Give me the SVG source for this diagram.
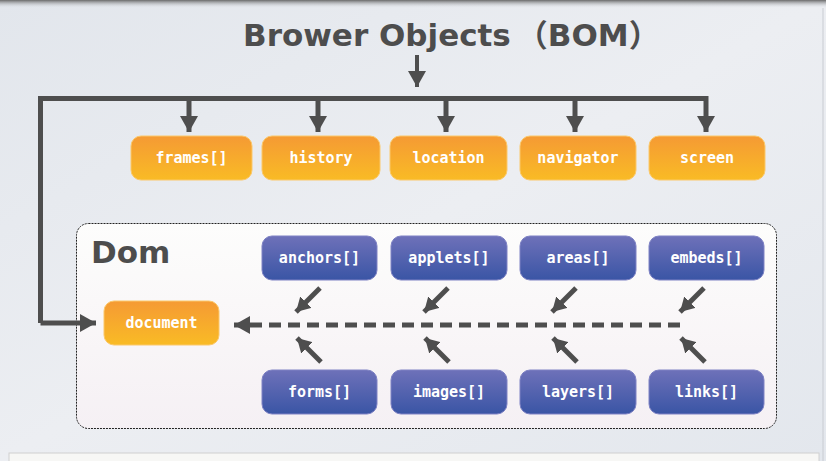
<svg xmlns="http://www.w3.org/2000/svg" width="826" height="461" viewBox="0 0 826 461">
<defs>
<linearGradient id="bg" x1="0" y1="0" x2="1" y2="1">
<stop offset="0" stop-color="#e2e6ec"/>
<stop offset="0.5" stop-color="#eceef2"/>
<stop offset="1" stop-color="#e3e7ed"/>
</linearGradient>
<linearGradient id="topbar" x1="0" y1="0" x2="0" y2="1">
<stop offset="0" stop-color="#6a6a6a"/>
<stop offset="1" stop-color="#e2e6ec" stop-opacity="0"/>
</linearGradient>
<linearGradient id="og" x1="0" y1="0" x2="0" y2="1">
<stop offset="0" stop-color="#f59a34"/>
<stop offset="1" stop-color="#f9bb25"/>
</linearGradient>
<linearGradient id="bl" x1="0" y1="0" x2="0" y2="1">
<stop offset="0" stop-color="#6e71b9"/>
<stop offset="1" stop-color="#3a55a5"/>
</linearGradient>
<linearGradient id="dom" x1="0" y1="0" x2="0" y2="1">
<stop offset="0" stop-color="#fdfdfc"/>
<stop offset="1" stop-color="#f5f0f4"/>
</linearGradient>
<marker id="ah" viewBox="0 0 16 18" refX="16" refY="9" markerWidth="16" markerHeight="18" markerUnits="userSpaceOnUse" orient="auto">
<path d="M0,0 L16,9 L0,18 z" fill="#4e4e4e"/>
</marker>
<marker id="ah2" viewBox="0 0 14 16" refX="14" refY="8" markerWidth="14" markerHeight="16" markerUnits="userSpaceOnUse" orient="auto">
<path d="M0,0 L14,8 L0,16 z" fill="#4e4e4e"/>
</marker>
</defs>
<style>
.o rect{fill:url(#og);stroke:#fbc86a;stroke-width:1}
.b rect{fill:url(#bl);stroke:#7e82c4;stroke-width:1}
.lbl{font-family:"DejaVu Sans Mono","Liberation Mono",monospace;font-weight:bold;font-size:15px;fill:#ffffff;text-anchor:middle}
.ln{fill:none;stroke:#4e4e4e;stroke-width:5}
.dg{fill:none;stroke:#4e4e4e;stroke-width:5;marker-end:url(#ah2)}
.hd{font-family:"DejaVu Sans","Noto Sans CJK SC",sans-serif;font-weight:bold;fill:#4d4d4d}
</style>
<rect x="0" y="0" width="826" height="461" fill="url(#bg)"/>
<rect x="0" y="0" width="826" height="8" fill="url(#topbar)"/>
<line x1="823" y1="8" x2="823" y2="461" stroke="#c9ccd2" stroke-width="1"/>
<rect x="9" y="453" width="810" height="10" fill="#f7f7f5" stroke="#d0d0d0" stroke-width="1"/>

<g id="title">
<text class="hd" x="243" y="46" font-size="31">Brower Objects<tspan dx="6" font-family="'Noto Sans CJK SC',sans-serif">（</tspan>BOM<tspan font-family="'Noto Sans CJK SC',sans-serif">）</tspan></text>
</g>

<g id="dom-container">
<rect x="76.5" y="223.5" width="700" height="205" rx="12" fill="url(#dom)" stroke="#222" stroke-width="1" stroke-dasharray="2,1"/>
<text class="hd" x="91" y="263" font-size="31">Dom</text>
</g>

<g id="connectors">
<line x1="417" y1="55" x2="417" y2="87" stroke="#4e4e4e" stroke-width="4" marker-end="url(#ah)"/>
<polyline class="ln" points="40.5,323 40.5,98.5 706,98.5"/>
<line class="ln" x1="40.5" y1="323" x2="96" y2="323" marker-end="url(#ah)"/>
<line class="ln" x1="189" y1="98" x2="189" y2="132" marker-end="url(#ah)"/>
<line class="ln" x1="318" y1="98" x2="318" y2="132" marker-end="url(#ah)"/>
<line class="ln" x1="446" y1="98" x2="446" y2="132" marker-end="url(#ah)"/>
<line class="ln" x1="575" y1="98" x2="575" y2="132" marker-end="url(#ah)"/>
<line class="ln" x1="706" y1="96" x2="706" y2="132" marker-end="url(#ah)"/>
<line class="ln" x1="680" y1="325" x2="234" y2="325" stroke-dasharray="12,7" marker-end="url(#ah)"/>
<line class="dg" x1="320" y1="288" x2="296" y2="312"/>
<line class="dg" x1="448" y1="288" x2="424" y2="312"/>
<line class="dg" x1="576" y1="288" x2="552" y2="312"/>
<line class="dg" x1="704" y1="288" x2="680" y2="312"/>
<line class="dg" x1="321" y1="362" x2="297" y2="338"/>
<line class="dg" x1="449" y1="362" x2="425" y2="338"/>
<line class="dg" x1="577" y1="362" x2="553" y2="338"/>
<line class="dg" x1="705" y1="362" x2="681" y2="338"/>
</g>

<g id="frames" class="o"><rect x="131" y="136" width="121" height="44" rx="10"/><text class="lbl" x="191.5" y="163">frames[]</text></g>
<g id="history" class="o"><rect x="262" y="136" width="118" height="44" rx="10"/><text class="lbl" x="321" y="163">history</text></g>
<g id="location" class="o"><rect x="390" y="136" width="117" height="44" rx="10"/><text class="lbl" x="448.5" y="163">location</text></g>
<g id="navigator" class="o"><rect x="520" y="136" width="116" height="44" rx="10"/><text class="lbl" x="578" y="163">navigator</text></g>
<g id="screen" class="o"><rect x="649" y="136" width="116" height="44" rx="10"/><text class="lbl" x="707" y="163">screen</text></g>

<g id="document" class="o"><rect x="104" y="301" width="115" height="44" rx="10"/><text class="lbl" x="161.5" y="328">document</text></g>

<g id="anchors" class="b"><rect x="262" y="236" width="115" height="44" rx="10"/><text class="lbl" x="319.5" y="263">anchors[]</text></g>
<g id="applets" class="b"><rect x="391" y="236" width="116" height="44" rx="10"/><text class="lbl" x="449" y="263">applets[]</text></g>
<g id="areas" class="b"><rect x="520" y="236" width="116" height="44" rx="10"/><text class="lbl" x="578" y="263">areas[]</text></g>
<g id="embeds" class="b"><rect x="649" y="236" width="115" height="44" rx="10"/><text class="lbl" x="706.5" y="263">embeds[]</text></g>

<g id="forms" class="b"><rect x="262" y="370" width="115" height="44" rx="10"/><text class="lbl" x="319.5" y="397">forms[]</text></g>
<g id="images" class="b"><rect x="391" y="370" width="116" height="44" rx="10"/><text class="lbl" x="449" y="397">images[]</text></g>
<g id="layers" class="b"><rect x="520" y="370" width="116" height="44" rx="10"/><text class="lbl" x="578" y="397">layers[]</text></g>
<g id="links" class="b"><rect x="649" y="370" width="115" height="44" rx="10"/><text class="lbl" x="706.5" y="397">links[]</text></g>
</svg>
